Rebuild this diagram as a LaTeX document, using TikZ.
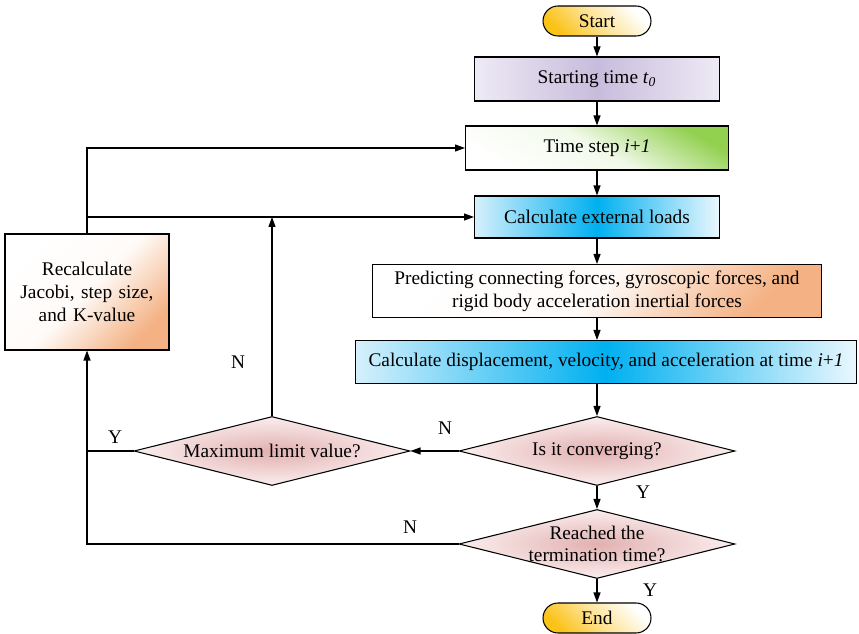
\documentclass[tikz,border=0pt]{standalone}
\usepackage{fontspec}
\setmainfont{Liberation Serif}
\usetikzlibrary{shapes.geometric,arrows.meta}

\begin{document}
\begin{tikzpicture}[x=0.02cm, y=-0.02cm,
    font=\fontsize{11}{13}\selectfont,
    box/.style = {rectangle, draw, line width=0.6pt, inner sep=2pt, align=center},
    term/.style = {rectangle, rounded corners=0.3cm, draw, line width=0.6pt, minimum width=2.16cm, minimum height=0.6cm,
        bottom color=gold-ish, top color=white, middle color=gold-ish!45, shading angle=-45},
    query/.style = {diamond, draw, line width=0.6pt, aspect=4, inner sep=-0.1cm, align=center,
        minimum width=5.52cm, minimum height=1.38cm, inner color=pink-ish, outer color=pinkedge},
    bluebox/.style = {box, left color=blueedge, right color=blueedge!50, middle color=cyan-ish},
    warmbox/.style = {box, top color=white, bottom color=orange-ish, middle color=orange-ish!6, shading angle=45},
    arr/.style = {line width=0.6pt, -{Triangle[length=0.2cm, width=0.14cm]}},
    ln/.style = {line width=0.6pt}
  ]

    \definecolor{gold-ish}{RGB}{251,194,24}
    \definecolor{lavender-ish}{RGB}{200,188,220}
    \definecolor{lavedge}{RGB}{238,234,245}
    \definecolor{green-ish}{RGB}{146,208,80}
    \definecolor{cyan-ish}{RGB}{0,176,240}
    \definecolor{blueedge}{RGB}{214,240,252}
    \definecolor{orange-ish}{RGB}{244,177,131}
    \definecolor{pink-ish}{RGB}{226,176,176}
    \definecolor{pinkedge}{RGB}{251,238,238}

    \useasboundingbox (0,0) rectangle (859,634);

    % main column
    \node [term] (start) at (597,21) {Start};
    \node [box, minimum width=4.9cm, minimum height=0.88cm, left color=lavedge, right color=lavedge, middle color=lavender-ish] (t0) at (597,79) {Starting time \textit{t}\textsubscript{\textit{0}}};
    \node [box, minimum width=5.26cm, minimum height=0.88cm, bottom color=white, top color=green-ish, middle color=green-ish!12, shading angle=-30] (step) at (597,148) {Time step \textit{i}+\textit{1}};
    \node [bluebox, minimum width=4.9cm, minimum height=0.84cm] (ext) at (597,217) {Calculate external loads};
    \node [warmbox, minimum width=8.98cm, minimum height=1.06cm] (pred) at (597,291) {Predicting connecting forces, gyroscopic forces, and\\ rigid body acceleration inertial forces};
    \node [bluebox, minimum width=10.04cm, minimum height=0.86cm] (disp) at (606,362) {Calculate displacement, velocity, and acceleration at time \textit{i}+\textit{1}};
    \node [query] (conv) at (597,451) {Is it converging?};
    \node [query] (reach) at (597,544) {Reached the\\ termination time?};
    \node [term] (end) at (597,618) {End};

    % side branch
    \node [query] (maxl) at (272,451) {Maximum limit value?};
    \node [warmbox, minimum width=3.28cm, minimum height=2.32cm, text width=3cm] (recalc) at (87,292) {Recalculate\\ Jacobi, step size,\\ and K-value};

    \draw[arr] (start) -- (t0);
    \draw[arr] (t0) -- (step);
    \draw[arr] (step) -- (ext);
    \draw[arr] (ext) -- (pred);
    \draw[arr] (pred.south) -- (pred.south |- disp.north);
    \draw[arr] (disp.south -| conv.north) -- (conv.north);
    \draw[arr] (conv.west) -- (maxl.east);
    \draw[arr] (conv.south) -- (reach.north);
    \draw[arr] (reach.south) -- (end.north);
    \draw[arr] (reach.west) -| (recalc.south);
    \draw[ln] (maxl.west) -- (maxl.west -| recalc.south);
    \draw[arr] (maxl.north) -- (maxl.north |- ext.west);
    \draw[arr] (recalc.north) |- (step.west);
    \draw[arr] (recalc.north |- ext.west) -- (ext.west);

    % labels
    \node (nconv) at (445,428) {N};
    \node (yconv) at (643,492) {Y};
    \node (yreach) at (650,590) {Y};
    \node (nreach) at (410,527) {N};
    \node (ymax) at (115,437) {Y};
    \node (nmax) at (238,362) {N};

\end{tikzpicture}
\end{document}
